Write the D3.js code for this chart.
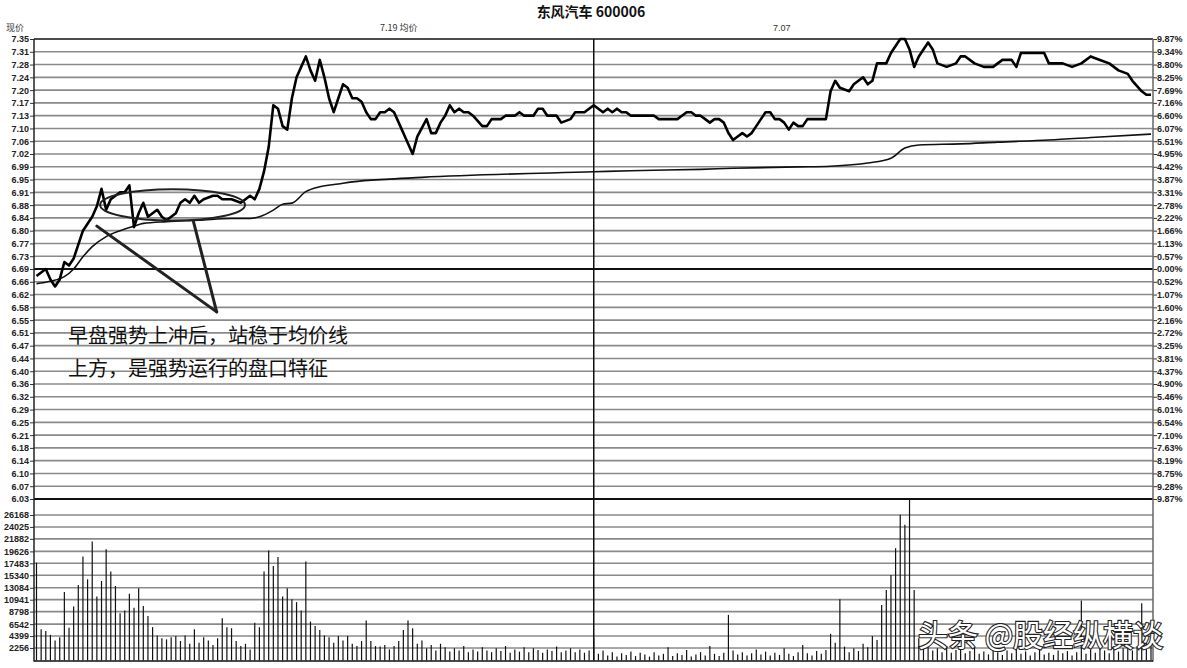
<!DOCTYPE html>
<html><head><meta charset="utf-8">
<script src="https://cdn.jsdelivr.net/npm/d3@7"></script>
<style>
html,body{margin:0;padding:0;background:#fff;}
svg{display:block;}
</style></head>
<body>
<script>
// ---------- DATA ----------
const title = "东风汽车 600006";
const headerLeft = "7.19 均价";
const headerRight = "7.07";
const priceAxisTitle = "现价";

const priceTickLabels = ["7.35","7.31","7.28","7.24","7.20","7.17","7.13","7.10","7.06","7.02","6.99","6.95","6.91","6.88","6.84","6.80","6.77","6.73","6.69","6.66","6.62","6.58","6.55","6.51","6.47","6.44","6.40","6.36","6.32","6.29","6.25","6.21","6.18","6.14","6.10","6.07","6.03"];
const pctTickLabels = ["9.87%","9.34%","8.80%","8.25%","7.69%","7.16%","6.60%","6.07%","5.51%","4.95%","4.42%","3.87%","3.31%","2.78%","2.22%","1.66%","1.13%","0.57%","0.00%","0.52%","1.07%","1.60%","2.16%","2.72%","3.25%","3.81%","4.37%","4.90%","5.46%","6.01%","6.54%","7.10%","7.63%","8.19%","8.75%","9.28%","9.87%"];
const volTicks = [2256,4399,6542,8798,10941,13084,15340,17483,19626,21882,24025,26168];

const priceMin = 6.03, priceMax = 7.35, prevClose = 6.69, volMax = 29050;

const priceMinutes = [0,2,3,4,5,6,7,8,9,10,11,12,13,14,15,16,17,18,19,20,21,22,23,24,25,26,27,28,30,31,32,33,34,35,36,38,39,40,42,44,46,47,48,49,50,51,52,53,54,55,56,57,58,59,60,61,62,63,64,65,66,67,68,69,70,71,72,73,74,75,76,77,78,80,81,82,84,85,86,87,88,89,90,91,92,93,94,96,97,98,100,101,103,104,105,107,108,109,110,112,113,115,116,118,120,121,122,123,124,125,126,127,128,133,134,138,139,140,141,142,143,144,145,146,147,148,149,150,151,152,153,154,155,156,157,158,159,160,161,162,163,164,165,166,170,171,172,173,175,176,178,179,180,181,183,184,186,187,188,189,190,192,193,194,196,198,199,200,202,204,206,208,210,211,212,217,218,221,223,225,227,229,231,233,235,236,238,239,240];
const priceValues = [6.67,6.69,6.66,6.64,6.66,6.71,6.70,6.72,6.76,6.80,6.82,6.84,6.87,6.92,6.86,6.89,6.90,6.91,6.91,6.93,6.81,6.85,6.88,6.84,6.85,6.86,6.84,6.83,6.85,6.88,6.89,6.88,6.90,6.88,6.89,6.90,6.90,6.89,6.89,6.88,6.90,6.89,6.92,6.97,7.04,7.16,7.15,7.10,7.09,7.18,7.24,7.27,7.30,7.26,7.23,7.29,7.24,7.18,7.14,7.18,7.22,7.21,7.18,7.18,7.17,7.14,7.12,7.12,7.14,7.14,7.15,7.14,7.11,7.05,7.02,7.07,7.12,7.08,7.08,7.11,7.13,7.16,7.14,7.15,7.14,7.14,7.13,7.10,7.10,7.12,7.12,7.13,7.13,7.14,7.13,7.13,7.15,7.15,7.13,7.13,7.11,7.12,7.14,7.14,7.16,7.15,7.14,7.15,7.14,7.15,7.14,7.14,7.13,7.13,7.12,7.12,7.13,7.14,7.14,7.13,7.13,7.12,7.11,7.12,7.12,7.11,7.08,7.06,7.07,7.08,7.07,7.08,7.10,7.12,7.14,7.14,7.12,7.12,7.11,7.09,7.11,7.10,7.10,7.12,7.12,7.20,7.23,7.21,7.20,7.22,7.24,7.22,7.23,7.28,7.28,7.31,7.35,7.35,7.32,7.27,7.30,7.34,7.32,7.28,7.27,7.28,7.30,7.30,7.28,7.27,7.27,7.29,7.29,7.27,7.31,7.31,7.28,7.28,7.27,7.28,7.30,7.29,7.28,7.26,7.25,7.23,7.20,7.19,7.19];

const avgMinutes = [0,3,6,8,10,12,15,18,21,23,28,35,42,46,48,51,53,55,58,61,65,68,76,83,120,128,143,150,164,171,179,184,187,190,199,207,218,229,240];
const avgValues = [6.648,6.655,6.668,6.69,6.725,6.754,6.783,6.80,6.813,6.821,6.826,6.83,6.835,6.835,6.84,6.859,6.876,6.879,6.912,6.926,6.934,6.94,6.948,6.953,6.969,6.972,6.976,6.979,6.983,6.985,6.994,7.008,7.037,7.046,7.049,7.054,7.06,7.069,7.077];

const volumes = [17600,5600,5300,4600,3600,4200,12300,5900,9700,13600,18700,14600,21400,11500,14300,20000,16000,13400,8500,9000,
12000,9500,13000,9800,8000,6000,4500,4000,3800,4200,4400,3500,4500,3000,5600,3200,4200,3600,2800,4000,
7600,6000,5800,3500,2600,3000,2000,6800,6000,16000,19800,17000,18600,11500,13000,11000,10500,9000,17800,7000,
6200,5500,4500,4200,3200,4400,3600,4400,3000,2600,3500,7200,3500,2600,2500,2800,2000,2600,3500,5500,
7200,5800,3000,3600,2200,2800,1800,3000,2400,1600,2200,1800,2600,1500,2000,1600,2400,1800,1500,2200,
1700,2600,1400,2000,1600,2400,1500,2200,1900,1400,2000,1700,2500,1500,1800,2200,1500,2000,1400,1800,
4000,1200,1800,900,1500,700,1300,1000,1600,800,1400,1100,700,1500,900,1200,2400,800,1300,1000,
1900,700,1100,1500,900,2600,1200,800,1400,8200,1800,1100,1500,900,1300,2000,1100,1600,900,1400,
1000,2200,1200,800,1500,2800,1300,900,1700,1200,1900,4800,3200,11000,2500,1500,2200,1700,3000,2400,
4400,3700,10000,12700,15400,20200,26200,24400,28900,12700,4000,2500,3000,1800,2200,1500,2600,1400,1900,2300,
1300,1700,2400,1200,1600,1100,2000,1500,1000,1800,1300,2100,1200,1600,900,1500,2200,1100,1400,1000,
1800,1300,1700,900,1500,10800,1200,2000,1400,2500,1800,1300,2600,1600,2200,3000,1800,2400,10300,4000,3500];

const noteLines = ["早盘强势上冲后，站稳于均价线","上方，是强势运行的盘口特征"];
const watermark = "头条 @股经纵横谈";
// annotation shapes in data space (minute, price)
const ellipseCenter = [29.3, 6.874], ellipseRadii = [15.6, 0.045];
const arrowTip = [38.8, 6.567];
const arrowStarts = [[13.0, 6.813],[33.8, 6.826]];

// ---------- LAYOUT ----------
const W = 1187, H = 668;
const L = 34, R = 1153, PT = 39, PB = 499, VB = 660.5;

const svg = d3.select("body").append("svg").attr("width", W).attr("height", H);

const x = d3.scaleLinear().domain([0, 240]).range([36.5, 1151]);
const y = d3.scaleLinear().domain([priceMin, priceMax]).range([PB, PT]);
const yv = d3.scaleLinear().domain([0, volMax]).range([VB, PB]);
const stepP = (priceMax - priceMin) / 36;
const priceTickVals = d3.range(37).map(i => priceMax - i * stepP);

const font = "'Liberation Sans', Arial, sans-serif";
const cjk = "'Noto Sans CJK SC', 'Noto Sans', sans-serif";

// gridlines price
svg.append("g").selectAll("line").data(priceTickVals).join("line")
  .attr("x1", L).attr("x2", R)
  .attr("y1", d => y(d)).attr("y2", d => y(d))
  .attr("stroke", (d, i) => (i === 0 || i === 18 || i === 36) ? "#111" : "#8a8a8a")
  .attr("stroke-width", (d, i) => (i === 18 || i === 36) ? 2 : 1.6);

// gridlines volume
svg.append("g").selectAll("line").data(volTicks).join("line")
  .attr("x1", L).attr("x2", R)
  .attr("y1", d => yv(d)).attr("y2", d => yv(d))
  .attr("stroke", "#8a8a8a").attr("stroke-width", 1.6);

// left price axis
const axL = d3.axisLeft(y).tickValues(priceTickVals).tickSize(4)
  .tickFormat((d, i) => priceTickLabels[i]);
const gL = svg.append("g").attr("transform", `translate(${L},0)`).call(axL);
gL.select(".domain").remove();
gL.selectAll("text").attr("font-family", font).attr("font-size", 9).attr("fill", "#222").attr("dx", 2).attr("font-weight", "bold");
gL.selectAll("line").attr("stroke", "#333");

// right pct axis
const axR = d3.axisRight(y).tickValues(priceTickVals).tickSize(4)
  .tickFormat((d, i) => pctTickLabels[i]);
const gR = svg.append("g").attr("transform", `translate(${R},0)`).call(axR);
gR.select(".domain").remove();
gR.selectAll("text").attr("font-family", font).attr("font-size", 9).attr("fill", "#222").attr("dx", -3).attr("font-weight", "bold");
gR.selectAll("line").attr("stroke", "#333");

// left volume axis
const axV = d3.axisLeft(yv).tickValues(volTicks).tickSize(4).tickFormat(d3.format("d"));
const gV = svg.append("g").attr("transform", `translate(${L},0)`).call(axV);
gV.select(".domain").remove();
gV.selectAll("text").attr("font-family", font).attr("font-size", 9).attr("fill", "#222").attr("dx", 2).attr("font-weight", "bold");
gV.selectAll("line").attr("stroke", "#333");

// frame lines
svg.append("line").attr("x1", L).attr("x2", L).attr("y1", PT).attr("y2", VB + 1).attr("stroke", "#222").attr("stroke-width", 1.5);
svg.append("line").attr("x1", R).attr("x2", R).attr("y1", PT).attr("y2", VB + 1).attr("stroke", "#666").attr("stroke-width", 1.5);
svg.append("line").attr("x1", L).attr("x2", R).attr("y1", VB + 0.5).attr("y2", VB + 0.5).attr("stroke", "#111").attr("stroke-width", 1.5);
svg.append("line").attr("x1", x(120)).attr("x2", x(120)).attr("y1", PT).attr("y2", VB).attr("stroke", "#111").attr("stroke-width", 1.5);

// volume bars
svg.append("g").selectAll("line").data(volumes).join("line")
  .attr("x1", (d, i) => x(i)).attr("x2", (d, i) => x(i))
  .attr("y1", yv(0)).attr("y2", d => yv(d))
  .attr("stroke", "#111").attr("stroke-width", 1.2);

// average line
const avgData = avgMinutes.map((m, i) => [m, avgValues[i]]);
svg.append("path").datum(avgData)
  .attr("d", d3.line().x(d => x(d[0])).y(d => y(d[1])).curve(d3.curveMonotoneX))
  .attr("fill", "none").attr("stroke", "#111").attr("stroke-width", 1.6);

// price line
const priceData = priceMinutes.map((m, i) => [m, priceValues[i]]);
svg.append("path").datum(priceData)
  .attr("d", d3.line().x(d => x(d[0])).y(d => y(d[1])))
  .attr("fill", "none").attr("stroke", "#000").attr("stroke-width", 2.6).attr("stroke-linejoin", "round");

// annotation ellipse and arrow
svg.append("ellipse")
  .attr("cx", x(ellipseCenter[0])).attr("cy", y(ellipseCenter[1]))
  .attr("rx", x(ellipseRadii[0]) - x(0)).attr("ry", y(priceMin) - y(priceMin + ellipseRadii[1]))
  .attr("fill", "none").attr("stroke", "#222").attr("stroke-width", 2);
svg.append("g").selectAll("line").data(arrowStarts).join("line")
  .attr("x1", d => x(d[0])).attr("y1", d => y(d[1]))
  .attr("x2", x(arrowTip[0])).attr("y2", y(arrowTip[1]))
  .attr("stroke", "#222").attr("stroke-width", 3).attr("stroke-linecap", "round");

// note text
svg.append("g").selectAll("text").data(noteLines).join("text")
  .attr("x", 68).attr("y", (d, i) => 343 + i * 33)
  .attr("font-family", cjk).attr("font-size", 20).attr("fill", "#111")
  .text(d => d);

// title and headers
svg.append("text").attr("x", 591).attr("y", 17).attr("text-anchor", "middle")
  .attr("font-family", cjk).attr("font-size", 14).attr("font-weight", "bold").attr("fill", "#111").text(title);
svg.append("text").attr("x", 380).attr("y", 31)
  .attr("font-family", cjk).attr("font-size", 9).attr("fill", "#333").text(headerLeft);
svg.append("text").attr("x", 773).attr("y", 31)
  .attr("font-family", font).attr("font-size", 9).attr("fill", "#333").text(headerRight);
svg.append("text").attr("x", 6).attr("y", 31)
  .attr("font-family", cjk).attr("font-size", 9).attr("fill", "#333").text(priceAxisTitle);

// watermark
svg.append("text").attr("x", 918).attr("y", 646)
  .attr("font-family", cjk).attr("font-size", 30).attr("fill", "#fff")
  .attr("stroke", "#222").attr("stroke-width", 2.2).attr("paint-order", "stroke")
  .text(watermark);
</script>
</body></html>
